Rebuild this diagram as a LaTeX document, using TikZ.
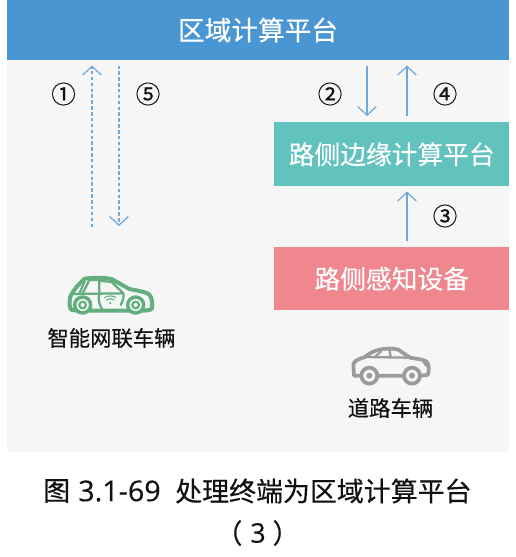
\documentclass[tikz,border=0pt]{standalone}
\usepackage{fontspec}
\setmainfont{Noto Sans CJK SC}[RawFeature={embolden=0.35}]
\newfontfamily\latinf{Open Sans}[RawFeature={embolden=0.2}]
\usetikzlibrary{arrows.meta}
\definecolor{bandblue}{HTML}{4A96D3}
\definecolor{tealbox}{HTML}{62C2BE}
\definecolor{pinkbox}{HTML}{F0868E}
\definecolor{panel}{HTML}{F6F6F6}
\definecolor{arrowblue}{HTML}{6FA8DC}
\definecolor{cargreen}{HTML}{62AE7C}
\definecolor{cargray}{HTML}{9B9B9B}
\definecolor{inktext}{HTML}{111111}
\tikzset{
  x=.75pt,y=-.75pt,
  box/.style={draw=none,inner sep=0pt,minimum width=176.25pt,font=\fontsize{19.3pt}{19.3pt}\selectfont,text=white},
  flow/.style={arrowblue,line width=.95pt,-{Straight Barb[length=6.5pt,width=14pt,line width=.9pt]}},
  flowdash/.style={flow,dash pattern=on 2.6pt off 1.8pt},
  num/.style={inner sep=0pt,text=inktext,font=\fontsize{18.5pt}{18.5pt}\selectfont},
  carlabel/.style={inner sep=0pt,text=inktext,font=\fontsize{16pt}{16pt}\selectfont},
  caption/.style={inner sep=0pt,text=inktext,font=\fontsize{20.2pt}{20.2pt}\selectfont},
}
\begin{document}
\begin{tikzpicture}
\useasboundingbox (0,0) rectangle (516,557);
\fill[white] (0,0) rectangle (516,557);
\fill[panel] (7,0) rectangle (509,452);
\node[box,fill=bandblue,minimum width=376.5pt,minimum height=45pt,anchor=north west] (band) at (7,0) {};
\node[inner sep=0pt,text=white,font=\fontsize{20pt}{20pt}\selectfont] (bandt) at (258,30) {区域计算平台};
\node[box,fill=tealbox,minimum height=48pt,anchor=north west] (teal) at (274,122) {路侧边缘计算平台};
\node[box,fill=pinkbox,minimum height=47.25pt,anchor=north west] (pink) at (274,247) {路侧感知设备};

\coordinate (xa) at (92,0);
\coordinate (xb) at (119,0);
\coordinate (xc) at (367,0);
\coordinate (xd) at (407,0);
\coordinate (la) at (92,227);
\coordinate (lb) at (119,226);
\draw[flowdash,shorten >=3.75pt] (la) -- (xa|-band.south);
\draw[flowdash,shorten <=3.75pt] (xb|-band.south) -- (lb);
\draw[flow,shorten <=3.75pt,shorten >=4.5pt] (xc|-band.south) -- (xc|-teal.north);
\draw[flow,shorten <=4.5pt,shorten >=3.75pt] (xd|-teal.north) -- (xd|-band.south);
\draw[flow,shorten <=4.5pt,shorten >=3.75pt] (xd|-pink.north) -- (xd|-teal.south);

\node[num] (n1) at (63.5,94) {①};
\node[num] (n5) at (148,94) {⑤};
\node[num] (n2) at (330,94) {②};
\node[num] (n4) at (445,94) {④};
\node[num] (n3) at (445,216) {③};

% connected car
\begin{scope}[shift={(40,260)},x=.25pt,y=-.25pt,line join=round,line cap=round]
\draw[cargreen,line width=3pt,fill=panel]
  (112,152) -- (96,150) .. controls (88,148) and (88,130) .. (90,112)
  .. controls (100,90) and (118,70) .. (134,56)
  .. controls (165,52) and (195,52) .. (217,58) -- (268,87)
  .. controls (295,92) and (315,96) .. (326,102)
  .. controls (336,110) and (338,130) .. (336,145)
  .. controls (332,150) and (320,152) .. (312,152) -- cycle;
\draw[cargreen,line width=1.7pt] (98,102) -- (250,100) -- (215,66) -- (178,62) -- (178,100);
\draw[cargreen,line width=1.7pt] (118,101) -- (134,64) (128,101) -- (148,60) -- (178,60);
\draw[cargreen,line width=1.7pt] (178,100) .. controls (172,120) and (180,140) .. (190,152);
\draw[cargreen,line width=1.7pt] (250,100) .. controls (252,115) and (248,125) .. (242,135);
\foreach \px in {128,287}{
  \draw[cargreen,line width=2.6pt,fill=panel] (\px,135) circle (24);
  \draw[cargreen,line width=1.6pt,fill=panel] (\px,135) circle (10);
}
\draw[cargreen,line width=.8pt] (194,113) .. controls (203,106) and (219,106) .. (228,113);
\draw[cargreen,line width=.8pt] (199,120) .. controls (206,115) and (216,115) .. (223,120);
\fill[cargreen] (211,129) circle (3.5);
\end{scope}
\node[carlabel] (lg) at (111.5,338) {智能网联车辆};

% road car
\begin{scope}[shift={(330,335)},x=.25pt,y=-.25pt,line join=round,line cap=round]
\draw[cargray,line width=2.8pt,fill=panel]
  (92,122) -- (72,122) -- (70,88) .. controls (72,76) and (92,70) .. (105,66)
  .. controls (130,42) and (175,36) .. (205,44)
  -- (240,68) .. controls (265,72) and (285,74) .. (292,82)
  .. controls (298,92) and (297,110) .. (293,120)
  -- (270,122) -- cycle;
\draw[cargray,line width=1.7pt] (105,66) -- (232,68);
\draw[cargray,line width=1.7pt] (135,66) -- (155,47);
\draw[cargray,line width=1.7pt] (182,66) -- (178,42);
\fill[cargray] (275,74) .. controls (290,78) and (296,86) .. (295,98) .. controls (285,96) and (278,86) .. (275,74) -- cycle;
\foreach \px in {118,246}{
  \draw[cargray,line width=2.8pt,fill=panel] (\px,122) circle (24);
  \fill[cargray] (\px,122) circle (9);
}
\end{scope}
\node[carlabel] (lr) at (390.5,408) {道路车辆};

\node[caption,anchor=west] (c1a) at (43,491) {图};
\node[caption,anchor=west] (c1b) at (78,491) {\latinf\fontsize{21.5pt}{21.5pt}\selectfont 3.1-69};
\node[caption,anchor=west] (c1c) at (175,491) {处理终端为区域计算平台};
\node[caption] (c2a) at (229,533) {（};
\node[caption] (c2b) at (258,533) {\latinf 3};
\node[caption] (c2c) at (286,533) {）};
\end{tikzpicture}
\end{document}
